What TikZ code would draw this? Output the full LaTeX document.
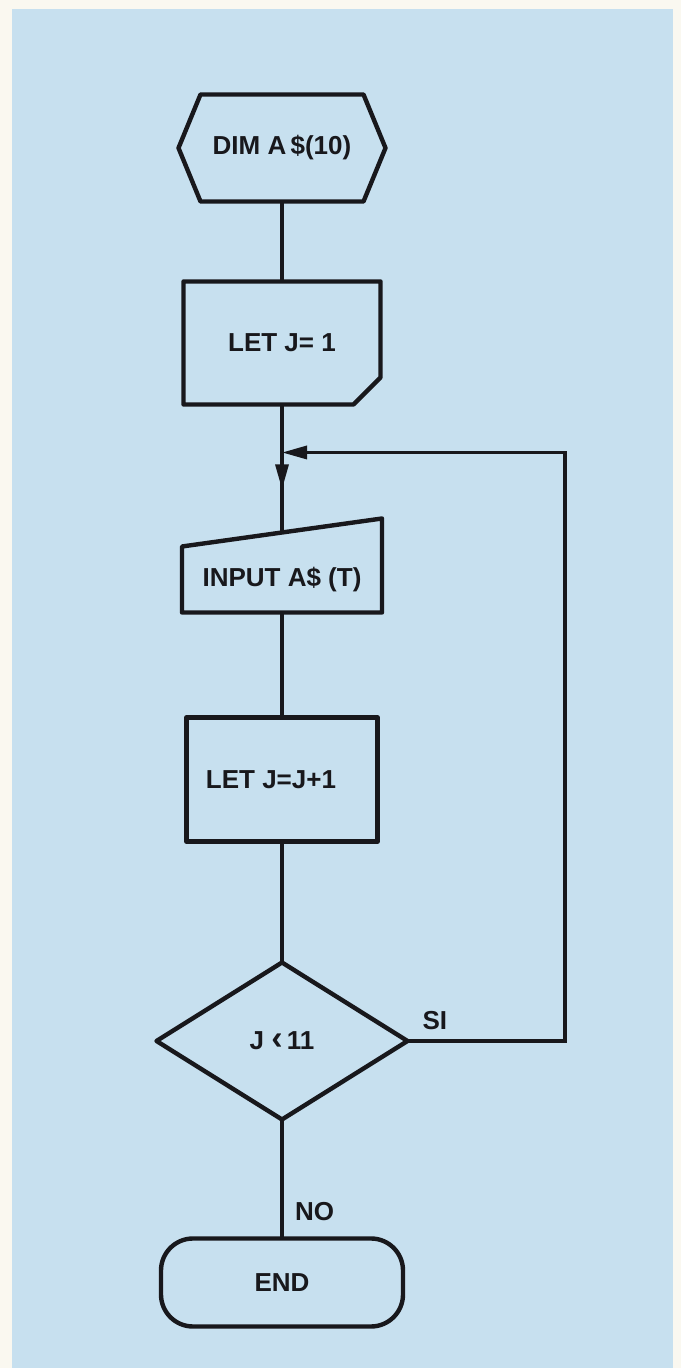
\documentclass[tikz,border=0pt]{standalone}
\usepackage{fontspec}
\setmainfont{Liberation Sans}
\usetikzlibrary{arrows.meta,positioning,shapes.geometric,calc}
\definecolor{paper}{RGB}{250,248,240}
\definecolor{sheet}{RGB}{199,224,239}
\definecolor{ink}{RGB}{24,24,28}
\tikzset{
    flowtext/.style={font=\bfseries\fontsize{26}{30}\selectfont, text=ink, inner sep=0pt, outer sep=0pt},
    outline/.style={draw=ink, line width=4.4pt, line join=round},
    wire/.style={draw=ink, line width=3.3pt},
    loophead/.style={-{Triangle[length=25pt,width=13pt]}},
    hexbox/.style={flowtext, minimum width=207pt, minimum height=107pt},
    setbox/.style={flowtext, minimum width=197pt, minimum height=123pt},
    inbox/.style={flowtext, minimum width=200pt, minimum height=66pt},
    procbox/.style={flowtext, outline, minimum width=191pt, minimum height=124pt},
    testbox/.style={flowtext, outline, diamond, minimum width=251pt, minimum height=157pt},
    endbox/.style={flowtext, outline, rounded corners=32pt, minimum width=242pt, minimum height=88pt}
}

\begin{document}
\begin{tikzpicture}[x=1pt, y=1pt]
\useasboundingbox (0,0) rectangle (681,1368);
\fill[paper] (0,0) rectangle (681,1368);
\fill[sheet] (12,0) rectangle (673,1359);
\node[hexbox] (dim) at (282,1220) {DIM A\,\$(10)};
\node[setbox, below=80pt of dim] (letone) {LET J= 1};
\node[inbox, below=142pt of letone] (input) {INPUT A\$ (T)};
\node[procbox, below=105pt of input] (inc) {LET J=J+1\kern22pt};
\node[testbox, below=121pt of inc] (test) {J {\fontsize{34}{30}\selectfont ‹}\,11};
\node[endbox, below=119pt of test] (stop) {END};
\draw[outline] ([xshift=22pt]dim.north west) -- ([xshift=-22pt]dim.north east) -- (dim.east)
    -- ([xshift=-22pt]dim.south east) -- ([xshift=22pt]dim.south west) -- (dim.west) -- cycle;
\draw[outline] (letone.north west) -- (letone.north east) -- ([yshift=27pt]letone.south east)
    -- ([xshift=-27pt]letone.south east) -- (letone.south west) -- cycle;
\draw[outline] (input.south west) -- (input.south east) -- ([yshift=28pt]input.north east)
    -- (input.north west) -- cycle;
\coordinate (intop) at ([yshift=14pt]input.north);
\coordinate (join) at ($(letone.south)!0.375!(intop)$);
\coordinate (backx) at (565,0);
\draw[wire] (dim) -- (letone);
\draw[wire] (letone) -- (join);
\draw[wire] (join) -- (intop);
\draw[wire, loophead] (join) -- ($(join)!0.46!(intop)$);
\draw[wire] (input) -- (inc);
\draw[wire] (inc) -- (test);
\draw[wire] (test) -- (stop);
\draw[wire, loophead] (test.east) -- (test.east -| backx) -- (backx |- join) -- (join);
\node[flowtext, above right=11pt and 15pt of test.east] (yes) {SI};
\node[flowtext, above right=18pt and 13pt of stop.north] (no) {NO};
\end{tikzpicture}
\end{document}
